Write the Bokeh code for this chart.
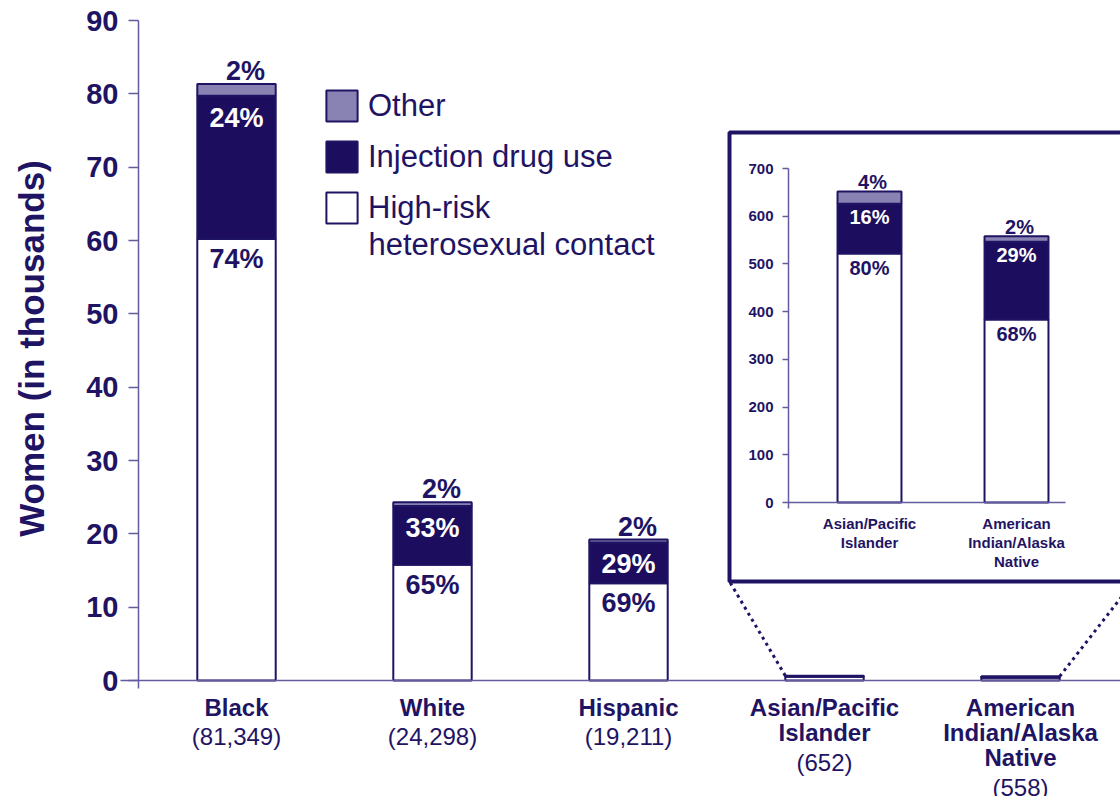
import numpy as np
from bokeh.plotting import figure
from bokeh.models import (ColumnDataSource, Range1d, LinearAxis, FixedTicker,
                          BoxAnnotation, Legend, LegendItem)
from bokeh.core.properties import value
from bokeh.embed import file_html
from bokeh.resources import INLINE

# ---------------- data ----------------
groups = ["Black", "White", "Hispanic", "Asian/Pacific Islander", "American Indian/Alaska Native"]
group_labels = ["Black", "White", "Hispanic", "Asian/Pacific\nIslander",
                "American\nIndian/Alaska\nNative"]
counts = [81349, 24298, 19211, 652, 558]
count_labels = ["(81,349)", "(24,298)", "(19,211)", "(652)", "(558)"]
pct_hetero = [74, 65, 69, 80, 68]
pct_idu = [24, 33, 29, 16, 29]
pct_other = [2, 2, 2, 4, 2]
series_labels = ["High-risk", "heterosexual contact", "Injection drug use", "Other"]
y_label = "Women (in thousands)"
y_ticks = [0, 10, 20, 30, 40, 50, 60, 70, 80, 90]
inset_ticks = [0, 100, 200, 300, 400, 500, 600, 700]
inset_labels = ["Asian/Pacific\nIslander", "American\nIndian/Alaska\nNative"]
n_main_labeled = 3          # bars with percentage labels in main chart
inset_idx = [3, 4]          # groups shown in the inset

# ---------------- styles / layout ----------------
NAVY = "#1f1464"
DARK = "#1c0d5e"
OTHER = "#8983b3"
AXIS = "#625c9e"
FONT = "Liberation Sans"

W, H = 1120, 796
# main plotting area (canvas pixels); the frame itself covers the whole canvas
A_LEFT, A_RIGHT, A_TOP, A_ZERO, A_BOTTOM = 138, 1118, 20, 680, 688
ppu = (A_ZERO - A_TOP) / 90.0
xppu = (A_RIGHT - A_LEFT) / 5.0
XS0 = -0.5 - A_LEFT / xppu
XS1 = 4.5 + (W - A_RIGHT) / xppu
YS0 = -(H - A_ZERO) / ppu
YS1 = A_ZERO / ppu

def px(cx):
    return XS0 + cx / xppu

def py(cy):
    return (A_ZERO - cy) / ppu

p = figure(width=W, height=H, x_range=Range1d(XS0, XS1), y_range=Range1d(YS0, YS1),
           output_backend="svg", toolbar_location=None, x_axis_location=None,
           y_axis_location=None, min_border=0,
           min_border_left=0, min_border_right=0, min_border_top=0, min_border_bottom=0)
p.grid.visible = False
p.xgrid.visible = False
p.ygrid.visible = False
p.outline_line_color = None
p.background_fill_color = "white"
p.border_fill_color = "white"

# ---------------- main bars ----------------
xs = list(range(len(groups)))
tot = [h + i + o for h, i, o in zip(pct_hetero, pct_idu, pct_other)]
hetero = [c / 1000 * h / t for c, h, t in zip(counts, pct_hetero, tot)]
idu = [c / 1000 * i / t for c, i, t in zip(counts, pct_idu, tot)]
other = [c / 1000 * o / t for c, o, t in zip(counts, pct_other, tot)]
src = ColumnDataSource(dict(x=xs, hetero=hetero, idu=idu, other=other))
BW = 0.40
rs = p.vbar_stack(["hetero", "idu", "other"], x="x", width=BW, source=src,
                  fill_color=["white", DARK, OTHER], line_color=NAVY, line_width=2)

# percentage labels (main)
n = n_main_labeled
lab_src_top = ColumnDataSource(dict(x=xs[:n], y=[h + i + o for h, i, o in zip(hetero[:n], idu[:n], other[:n])],
                                    t=[f"{v}%" for v in pct_other[:n]]))
lab_src_idu = ColumnDataSource(dict(x=xs[:n], y=[h + i for h, i in zip(hetero[:n], idu[:n])],
                                    t=[f"{v}%" for v in pct_idu[:n]]))
lab_src_het = ColumnDataSource(dict(x=xs[:n], y=hetero[:n], t=[f"{v}%" for v in pct_hetero[:n]]))
common = dict(text="t", text_font=value(FONT), text_font_style="bold", text_font_size="27px",
              text_align="center", text_baseline="middle")
p.text(x="x", y="y", source=lab_src_top, text_color=NAVY, x_offset=9, y_offset=-13, **common)
p.text(x="x", y="y", source=lab_src_idu, text_color="white", y_offset=22, **common)
p.text(x="x", y="y", source=lab_src_het, text_color=NAVY, y_offset=20, **common)

# main y axis
ya = LinearAxis(fixed_location=px(A_LEFT), bounds=(py(A_BOTTOM), 90),
                ticker=FixedTicker(ticks=y_ticks))
ya.major_label_text_font = FONT
ya.major_label_text_font_style = "bold"
ya.major_label_text_font_size = "29px"
ya.major_label_text_color = NAVY
ya.major_tick_out = 10
ya.major_tick_in = 0
ya.minor_tick_out = 0
ya.minor_tick_in = 0
ya.axis_line_color = AXIS
ya.axis_line_width = 1.5
ya.major_tick_line_color = AXIS
ya.major_tick_line_width = 1.5
ya.major_label_standoff = 10
p.add_layout(ya, "left")

p.text(x=[px(31)], y=[py(348)], text=[y_label], angle=np.pi / 2, text_font=value(FONT),
       text_font_style="bold", text_font_size="35px", text_color=NAVY,
       text_align="center", text_baseline="middle")

# main category axis (bold names) at y = 0; its line is the baseline
xa = LinearAxis(fixed_location=0, bounds=(px(120), px(W)), ticker=FixedTicker(ticks=xs),
                major_label_overrides={k: v for k, v in zip(xs, group_labels)})
xa.major_label_text_font = FONT
xa.major_label_text_font_style = "bold"
xa.major_label_text_font_size = "24px"
xa.major_label_text_color = NAVY
xa.major_label_text_line_height = 0.93
xa.major_label_standoff = 13
xa.major_tick_out = 0
xa.major_tick_in = 0
xa.minor_tick_out = 0
xa.minor_tick_in = 0
xa.axis_line_color = AXIS
xa.axis_line_width = 1.5
p.add_layout(xa, "below")

# counts under each name
LINE_PITCH = 25.5
cnt_y = [py(707 + lab.count("\n") * LINE_PITCH + 29) for lab in group_labels]
p.text(x=xs, y=cnt_y, text=count_labels, text_font=value(FONT), text_font_size="24px",
       text_color=NAVY, text_align="center", text_baseline="middle")

# legend
legend = Legend(items=[LegendItem(label=series_labels[3], renderers=[rs[2]]),
                       LegendItem(label=series_labels[2], renderers=[rs[1]]),
                       LegendItem(label=series_labels[0], renderers=[rs[0]])],
                location=(322, 569), orientation="vertical")
legend.glyph_width = 39
legend.glyph_height = 39
legend.label_text_font = FONT
legend.label_text_font_size = "31px"
legend.label_text_color = NAVY
legend.label_standoff = 7
legend.spacing = 12
legend.padding = 0
legend.margin = 0
legend.border_line_color = None
legend.background_fill_alpha = 0
p.add_layout(legend)
p.text(x=[px(368)], y=[py(244)], text=[series_labels[1]], text_font=value(FONT),
       text_font_size="31px", text_color=NAVY, text_align="left", text_baseline="middle")

# ---------------- inset ----------------
BOX_L, BOX_R, BOX_T, BOX_B = 729, 1133, 132, 581
p.add_layout(BoxAnnotation(left=px(BOX_L), right=px(BOX_R), top=py(BOX_T), bottom=py(BOX_B),
                           fill_color="white", fill_alpha=1, line_color=NAVY, line_width=4,
                           line_alpha=1, level="underlay"))

IX1, IX2 = 869, 1016
ixppu = IX2 - IX1
IY0, IY700 = 502, 168
iyppu = (IY0 - IY700) / 700
p.extra_x_ranges = {"ix": Range1d(1 - IX1 / ixppu, 2 + (W - IX2) / ixppu)}
p.extra_y_ranges = {"iy": Range1d(-(H - IY0) / iyppu, 700 + IY700 / iyppu)}
ix_axis = 1 - (IX1 - 788) / ixppu
ix_end = 2 + (1065 - IX2) / ixppu

ixs = [1, 2]
i_het = [counts[j] * pct_hetero[j] / tot[j] for j in inset_idx]
i_idu = [counts[j] * pct_idu[j] / tot[j] for j in inset_idx]
i_oth = [counts[j] * pct_other[j] / tot[j] for j in inset_idx]
isrc = ColumnDataSource(dict(x=ixs, hetero=i_het, idu=i_idu, other=i_oth))
p.vbar_stack(["hetero", "idu", "other"], x="x", width=0.435, source=isrc,
             x_range_name="ix", y_range_name="iy",
             fill_color=["white", DARK, OTHER], line_color=NAVY, line_width=2)

icommon = dict(text="t", text_font=value(FONT), text_font_style="bold", text_font_size="20px",
               text_align="center", text_baseline="middle", x_range_name="ix", y_range_name="iy")
p.text(x="x", y="y", source=ColumnDataSource(dict(x=ixs, y=[a + b + c for a, b, c in zip(i_het, i_idu, i_oth)],
                                                  t=[f"{pct_other[j]}%" for j in inset_idx])),
       text_color=NAVY, x_offset=3, y_offset=-9, **icommon)
p.text(x="x", y="y", source=ColumnDataSource(dict(x=ixs, y=[a + b for a, b in zip(i_het, i_idu)],
                                                  t=[f"{pct_idu[j]}%" for j in inset_idx])),
       text_color="white", y_offset=13, **icommon)
p.text(x="x", y="y", source=ColumnDataSource(dict(x=ixs, y=i_het,
                                                  t=[f"{pct_hetero[j]}%" for j in inset_idx])),
       text_color=NAVY, y_offset=14, **icommon)

iya = LinearAxis(x_range_name="ix", y_range_name="iy", fixed_location=ix_axis, bounds=(-12, 700),
                 ticker=FixedTicker(ticks=inset_ticks))
iya.major_label_text_font = FONT
iya.major_label_text_font_style = "bold"
iya.major_label_text_font_size = "15px"
iya.major_label_text_color = NAVY
iya.major_tick_out = 6
iya.major_tick_in = 0
iya.minor_tick_out = 0
iya.minor_tick_in = 0
iya.axis_line_color = AXIS
iya.axis_line_width = 1.5
iya.major_tick_line_color = AXIS
iya.major_tick_line_width = 1.5
iya.major_label_standoff = 9
p.add_layout(iya, "left")

ixa = LinearAxis(x_range_name="ix", y_range_name="iy", fixed_location=0, bounds=(ix_axis, ix_end),
                 ticker=FixedTicker(ticks=ixs),
                 major_label_overrides={k: v for k, v in zip(ixs, inset_labels)})
ixa.major_label_text_font = FONT
ixa.major_label_text_font_style = "bold"
ixa.major_label_text_font_size = "15px"
ixa.major_label_text_color = NAVY
ixa.major_label_text_line_height = 1.134
ixa.major_tick_out = 0
ixa.major_tick_in = 0
ixa.minor_tick_out = 0
ixa.minor_tick_in = 0
ixa.axis_line_color = AXIS
ixa.axis_line_width = 1.5
ixa.major_label_standoff = 12
p.add_layout(ixa, "below")

# dotted connectors from small bars to inset box corners
p.segment(x0=[xs[3] - BW / 2, xs[4] + BW / 2], y0=[counts[3] / 1000, counts[4] / 1000],
          x1=[px(BOX_L), px(BOX_R)], y1=[py(BOX_B), py(BOX_B)],
          line_color=NAVY, line_width=3, line_dash="3 4")

open("out.html", "w").write(file_html(p, INLINE))
